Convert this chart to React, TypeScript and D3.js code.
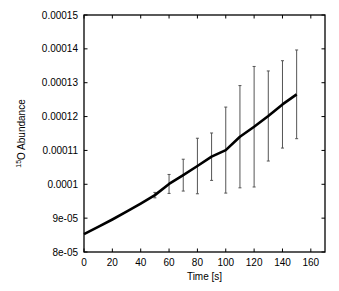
import React, { useEffect, useRef } from 'react';
import * as d3 from 'd3';

// time [s] and 15O abundance along the run
const times = [0, 10, 20, 30, 40, 50, 60, 70, 80, 90, 100, 110, 120, 130, 140, 150];
const abundance = [
  8.53e-5, 8.74e-5, 8.96e-5, 9.19e-5, 9.43e-5, 9.68e-5, 1.001e-4, 1.027e-4,
  1.054e-4, 1.0815e-4, 1.101e-4, 1.1405e-4, 1.17e-4, 1.2017e-4, 1.236e-4, 1.2657e-4,
];
// error bars (half width) from t = 50 on
const errTimes = [50, 60, 70, 80, 90, 100, 110, 120, 130, 140, 150];
const errValues = [
  0.08e-5, 0.28e-5, 0.47e-5, 0.82e-5, 0.7e-5, 1.27e-5, 1.51e-5, 1.78e-5, 1.33e-5, 1.29e-5, 1.31e-5,
];

const xTicks = [0, 20, 40, 60, 80, 100, 120, 140, 160];
const yTicks = [8e-5, 9e-5, 1e-4, 1.1e-4, 1.2e-4, 1.3e-4, 1.4e-4, 1.5e-4];
const yTickLabels = ['8e-05', '9e-05', '0.0001', '0.00011', '0.00012', '0.00013', '0.00014', '0.00015'];

const width = 339;
const height = 291;
const font = '"Liberation Sans", Arial, sans-serif';

const App: React.FC = () => {
  const svgRef = useRef<SVGSVGElement>(null);

  useEffect(() => {
    if (!svgRef.current) return;
    const svg = d3.select(svgRef.current);
    svg.selectAll('*').remove();

    const margin = { top: 15, right: 14, bottom: 39, left: 84 };
    const x = d3.scaleLinear().domain([0, 170]).range([margin.left, width - margin.right]);
    const y = d3.scaleLinear().domain([8e-5, 1.5e-4]).range([height - margin.bottom, margin.top]);

    const g = svg.append('g');

    // error bars
    const errData = errTimes.map((t, i) => ({
      t,
      v: abundance[times.indexOf(t)],
      e: errValues[i],
    }));
    const eb = g.append('g').attr('stroke', '#555').attr('stroke-width', 1);
    errData.forEach(d => {
      const cx = x(d.t);
      eb.append('line')
        .attr('x1', cx).attr('x2', cx)
        .attr('y1', y(d.v - d.e)).attr('y2', y(d.v + d.e));
      [d.v - d.e, d.v + d.e].forEach(v => {
        eb.append('line')
          .attr('x1', cx - 1.5).attr('x2', cx + 1.5)
          .attr('y1', y(v)).attr('y2', y(v));
      });
    });

    // main line
    const line = d3.line<number>()
      .x((_, i) => x(times[i]))
      .y(d => y(d));
    g.append('path')
      .datum(abundance)
      .attr('fill', 'none')
      .attr('stroke', '#000')
      .attr('stroke-width', 2.6)
      .attr('stroke-linejoin', 'round')
      .attr('d', line);

    // frame
    const [x0, x1] = x.range();
    const [y0, y1] = y.range();
    g.append('rect')
      .attr('x', x0).attr('y', y1)
      .attr('width', x1 - x0).attr('height', y0 - y1)
      .attr('fill', 'none').attr('stroke', '#000').attr('stroke-width', 1.3);

    // ticks, inward on all sides
    const tl = 3.5;
    const ticks = g.append('g').attr('stroke', '#000').attr('stroke-width', 1);
    xTicks.forEach(t => {
      ticks.append('line').attr('x1', x(t)).attr('x2', x(t)).attr('y1', y0).attr('y2', y0 - tl);
      ticks.append('line').attr('x1', x(t)).attr('x2', x(t)).attr('y1', y1).attr('y2', y1 + tl);
    });
    yTicks.forEach(t => {
      ticks.append('line').attr('x1', x0).attr('x2', x0 + tl).attr('y1', y(t)).attr('y2', y(t));
      ticks.append('line').attr('x1', x1).attr('x2', x1 - tl).attr('y1', y(t)).attr('y2', y(t));
    });

    // tick labels
    const labels = g.append('g').style('font-family', font).style('font-size', '10px').attr('fill', '#000');
    xTicks.forEach(t => {
      labels.append('text')
        .attr('x', x(t)).attr('y', y0 + 14)
        .attr('text-anchor', 'middle')
        .text(String(t));
    });
    yTicks.forEach((t, i) => {
      labels.append('text')
        .attr('x', x0 - 6).attr('y', y(t) + 3.5)
        .attr('text-anchor', 'end')
        .text(yTickLabels[i]);
    });

    // axis titles
    labels.append('text')
      .attr('x', (x0 + x1) / 2).attr('y', y0 + 28)
      .attr('text-anchor', 'middle')
      .text('Time [s]');

    const yl = labels.append('text')
      .attr('transform', `translate(25, ${(y0 + y1) / 2}) rotate(-90)`)
      .attr('text-anchor', 'middle');
    yl.append('tspan').attr('font-size', '7px').attr('dy', '-4').text('15');
    yl.append('tspan').attr('dy', '4').text('O Abundance');
  }, []);

  return (
    <svg
      ref={svgRef}
      width={width}
      height={height}
      style={{ position: 'absolute', left: 0, top: 0, background: '#fff' }}
    />
  );
};

export default App;
